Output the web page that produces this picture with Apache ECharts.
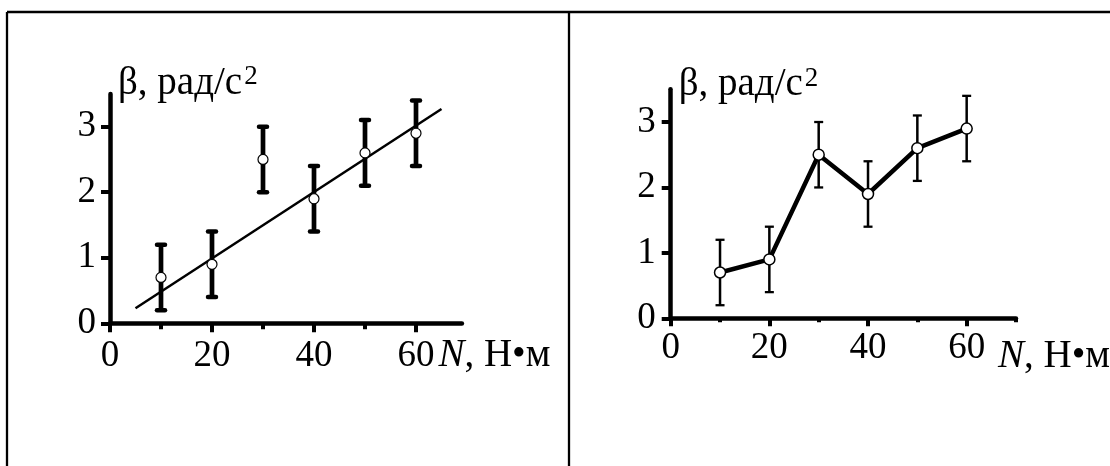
<!DOCTYPE html>
<html><head><meta charset="utf-8">
<script src="https://cdn.jsdelivr.net/npm/echarts@6/dist/echarts.min.js"></script>
<style>html,body{margin:0;padding:0;background:#fff}#c{width:1110px;height:466px}</style>
</head><body><div id="c"></div>
<script>
// ---- data ----
const xValues = [10, 20, 30, 40, 50, 60];
const betaValues = [0.7, 0.9, 2.5, 1.9, 2.6, 2.9];
const betaLow = [0.2, 0.4, 2.0, 1.4, 2.1, 2.4];
const betaHigh = [1.2, 1.4, 3.0, 2.4, 3.1, 3.4];
const fitX = [5, 65];
const fitY = [0.23, 3.27];
const xLabelValues = [0, 20, 40, 60];
const xMinorLeft = [10, 30, 50];
const xMinorRight = [10, 30, 50, 70];
const yLabelValues = [0, 1, 2, 3];
const yAxisTitle = 'β, рад/с';
const yAxisTitleSup = '2';
const xAxisTitleVar = 'N';
const xAxisTitleUnit = ', Н•м';

const FONT = '"Liberation Serif", "DejaVu Serif", serif';
const chart = echarts.init(document.getElementById('c'), null, {renderer: 'canvas'});

const points = xValues.map((x, i) => [x, betaValues[i]]);
const errData = xValues.map((x, i) => [x, betaLow[i], betaHigh[i]]);
const fitData = fitX.map((x, i) => [x, fitY[i]]);

function errRender(w, capHalf, capW, cap) {
  return function (params, api) {
    const x = api.value(0), lo = api.value(1), hi = api.value(2);
    const a = api.coord([x, lo]), b = api.coord([x, hi]);
    const st = {stroke: '#000', lineWidth: w};
    const cs = {stroke: '#000', lineWidth: capW, lineCap: cap};
    return {type: 'group', children: [
      {type: 'line', shape: {x1: a[0], y1: a[1], x2: b[0], y2: b[1]}, style: st},
      {type: 'line', shape: {x1: b[0] - capHalf, y1: b[1], x2: b[0] + capHalf, y2: b[1]}, style: cs},
      {type: 'line', shape: {x1: a[0] - capHalf, y1: a[1], x2: a[0] + capHalf, y2: a[1]}, style: cs}
    ]};
  };
}

function xMain(grid, max, margin, gap, padTop, tickLen) {
  return {
    gridIndex: grid, type: 'value', min: 0, max: max, position: 'bottom',
    splitLine: {show: false},
    axisLine: {show: true, lineStyle: {color: '#000', width: 4.5, cap: 'round'}},
    axisTick: {show: true, customValues: xLabelValues, length: tickLen, lineStyle: {color: '#000', width: 4}},
    axisLabel: {customValues: xLabelValues, margin: margin, fontSize: 37, fontFamily: FONT, color: '#000'},
    name: '{i|' + xAxisTitleVar + '}{t|' + xAxisTitleUnit + '}',
    nameLocation: 'end', nameGap: gap,
    nameTextStyle: {
      align: 'left', verticalAlign: 'top', padding: [padTop, 0, 0, 0],
      fontSize: 39, fontFamily: FONT, color: '#000',
      rich: {
        i: {fontSize: 39, fontFamily: FONT, fontStyle: 'italic', color: '#000'},
        t: {fontSize: 39, fontFamily: FONT, color: '#000'}
      }
    }
  };
}
function xMinor(grid, max, vals, len) {
  return {
    gridIndex: grid, type: 'value', min: 0, max: max, position: 'bottom',
    splitLine: {show: false}, axisLine: {show: false},
    axisTick: {show: true, customValues: vals, length: len, lineStyle: {color: '#000', width: 4}},
    axisLabel: {show: false}
  };
}
function yMain(grid, gap, margin) {
  return {
    gridIndex: grid, type: 'value', min: 0, max: 3.5,
    splitLine: {show: false},
    axisLine: {show: true, lineStyle: {color: '#000', width: 4.5}},
    axisTick: {show: true, customValues: yLabelValues, length: 9, lineStyle: {color: '#000', width: 4}},
    axisLabel: {customValues: yLabelValues, margin: margin, fontSize: 37, fontFamily: FONT, color: '#000'},
    name: '{m|' + yAxisTitle + '}{s|' + yAxisTitleSup + '}',
    nameLocation: 'end', nameGap: gap,
    nameTextStyle: {
      align: 'left', verticalAlign: 'bottom', padding: [0, 0, 0, 8],
      fontSize: 39, fontFamily: FONT, color: '#000',
      rich: {
        m: {fontSize: 39, fontFamily: FONT, color: '#000'},
        s: {fontSize: 27, fontFamily: FONT, color: '#000', verticalAlign: 'top', padding: [0, 0, 0, 2]}
      }
    }
  };
}

const option = {
  animation: false,
  backgroundColor: '#fff',
  grid: [
    {left: 110, top: 93.9, width: 351.9, height: 229.4, containLabel: false, outerBoundsMode: 'none'},
    {left: 670.7, top: 89.3, width: 345.3, height: 229, containLabel: false, outerBoundsMode: 'none'}
  ],
  xAxis: [
    xMain(0, 69, 14, -25, 13, 9),
    xMinor(0, 69, xMinorLeft, 6),
    xMain(1, 70, 11, -18, 19, 8),
    xMinor(1, 70, xMinorRight, 4)
  ],
  yAxis: [yMain(0, -9, 14), yMain(1, -15, 15)],
  graphic: [
    {type: 'line', silent: true, shape: {x1: 7, y1: 12, x2: 1110, y2: 12}, style: {stroke: '#000', lineWidth: 2.3}},
    {type: 'line', silent: true, shape: {x1: 7, y1: 12, x2: 7, y2: 466}, style: {stroke: '#000', lineWidth: 2.3}},
    {type: 'line', silent: true, shape: {x1: 569, y1: 12, x2: 569, y2: 466}, style: {stroke: '#000', lineWidth: 2.3}}
  ],
  series: [
    {type: 'custom', xAxisIndex: 0, yAxisIndex: 0, data: errData, encode: {x: 0, y: [1, 2]},
     renderItem: errRender(4.7, 4, 4.5, 'round'), z: 2},
    {type: 'line', xAxisIndex: 0, yAxisIndex: 0, data: fitData, symbol: 'none',
     lineStyle: {color: '#000', width: 2.5}, z: 3},
    {type: 'scatter', xAxisIndex: 0, yAxisIndex: 0, data: points, symbol: 'circle', symbolSize: 10,
     itemStyle: {color: '#fff', borderColor: '#000', borderWidth: 1.2, opacity: 1}, z: 5},
    {type: 'custom', xAxisIndex: 2, yAxisIndex: 1, data: errData, encode: {x: 0, y: [1, 2]},
     renderItem: errRender(2.5, 4.5, 2.3, 'butt'), z: 2},
    {type: 'line', xAxisIndex: 2, yAxisIndex: 1, data: points, symbol: 'circle', symbolSize: 11, showSymbol: true,
     itemStyle: {color: '#fff', borderColor: '#000', borderWidth: 1.5},
     lineStyle: {color: '#000', width: 4.5}, z: 4}
  ]
};
chart.setOption(option);
</script>
</body></html>
